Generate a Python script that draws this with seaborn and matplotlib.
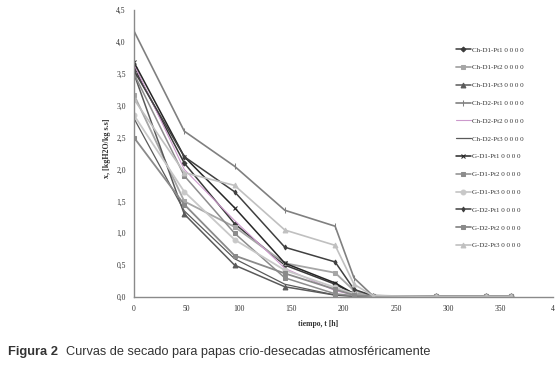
import matplotlib
matplotlib.use("Agg")
import matplotlib.pyplot as plt
import seaborn as sns
import pandas as pd
import numpy as np

# ---- data ----
tiempo = [0, 48, 96, 144, 192, 210, 228, 288, 336, 360]

ch_d1_pt1 = [3.60, 2.10, 1.15, 0.50, 0.20, 0.05, 0.02, 0.01, 0.01, 0.01]
ch_d1_pt2 = [3.17, 1.50, 1.10, 0.53, 0.38, 0.10, 0.02, 0.01, 0.01, 0.01]
ch_d1_pt3 = [3.50, 1.30, 0.50, 0.16, 0.03, 0.01, 0.01, 0.01, 0.01, 0.01]
ch_d2_pt1 = [4.17, 2.60, 2.05, 1.36, 1.11, 0.30, 0.02, 0.01, 0.01, 0.01]
ch_d2_pt2 = [3.65, 2.00, 1.20, 0.45, 0.10, 0.03, 0.02, 0.01, 0.01, 0.01]
ch_d2_pt3 = [2.80, 1.35, 0.60, 0.20, 0.03, 0.02, 0.01, 0.01, 0.01, 0.01]
g_d1_pt1 = [3.68, 2.20, 1.40, 0.53, 0.22, 0.05, 0.02, 0.01, 0.01, 0.01]
g_d1_pt2 = [3.50, 1.90, 1.00, 0.30, 0.05, 0.02, 0.01, 0.01, 0.01, 0.01]
g_d1_pt3 = [2.85, 1.65, 0.90, 0.42, 0.15, 0.05, 0.02, 0.01, 0.01, 0.01]
g_d2_pt1 = [3.55, 2.20, 1.65, 0.78, 0.55, 0.12, 0.02, 0.01, 0.01, 0.01]
g_d2_pt2 = [2.50, 1.45, 0.65, 0.37, 0.12, 0.03, 0.02, 0.01, 0.01, 0.01]
g_d2_pt3 = [3.10, 1.95, 1.75, 1.05, 0.81, 0.20, 0.02, 0.01, 0.01, 0.01]

series_names = ["Ch-D1-Pt1 0 0 0 0", "Ch-D1-Pt2 0 0 0 0", "Ch-D1-Pt3 0 0 0 0",
                "Ch-D2-Pt1 0 0 0 0", "Ch-D2-Pt2 0 0 0 0", "Ch-D2-Pt3 0 0 0 0",
                "G-D1-Pt1 0 0 0 0", "G-D1-Pt2 0 0 0 0", "G-D1-Pt3 0 0 0 0",
                "G-D2-Pt1 0 0 0 0", "G-D2-Pt2 0 0 0 0", "G-D2-Pt3 0 0 0 0"]
series_values = [ch_d1_pt1, ch_d1_pt2, ch_d1_pt3, ch_d2_pt1, ch_d2_pt2, ch_d2_pt3,
                 g_d1_pt1, g_d1_pt2, g_d1_pt3, g_d2_pt1, g_d2_pt2, g_d2_pt3]

x_ticks = [0, 50, 100, 150, 200, 250, 300, 350, 400]
x_tick_labels = ["0", "50", "100", "150", "200", "250", "300", "350", "4"]
y_ticks = [0.0, 0.5, 1.0, 1.5, 2.0, 2.5, 3.0, 3.5, 4.0, 4.5]
y_tick_labels = ["0,0", "0,5", "1,0", "1,5", "2,0", "2,5", "3,0", "3,5", "4,0", "4,5"]

# ---- styles ----
styles = [
    dict(color="#3a3a3a", marker="D", ms=2.5, lw=1.1),
    dict(color="#a6a6a6", marker="s", ms=3.5, lw=1.3),
    dict(color="#5a5a5a", marker="^", ms=3.5, lw=1.1),
    dict(color="#808080", marker="|", ms=4, lw=1.2),
    dict(color="#cc99cc", marker="", ms=0, lw=0.8),
    dict(color="#5a5a5a", marker="", ms=0, lw=0.9),
    dict(color="#262626", marker="x", ms=3, lw=1.1),
    dict(color="#8c8c8c", marker="s", ms=3, lw=1.1),
    dict(color="#c8c8c8", marker="o", ms=3.5, lw=1.3),
    dict(color="#404040", marker="d", ms=2.5, lw=1.1),
    dict(color="#8a8a8a", marker="s", ms=3.5, lw=1.3),
    dict(color="#c0c0c0", marker="^", ms=3.5, lw=1.2),
]

sns.set_theme(style="white")
plt.rcParams["font.family"] = ["Liberation Serif", "DejaVu Serif"]

fig = plt.figure(figsize=(5.55, 3.65), dpi=100)
ax = fig.add_axes([134/555, 1 - 297/365, (553 - 134)/555, (297 - 10)/365])

for name, vals, st in zip(series_names, series_values, styles):
    df = pd.DataFrame({"t": tiempo, "x": vals})
    sns.lineplot(data=df, x="t", y="x", ax=ax, color=st["color"], linewidth=st["lw"],
                 marker=st["marker"] if st["marker"] else None,
                 markersize=st["ms"], markeredgecolor=st["color"],
                 markerfacecolor=st["color"], label=name, sort=False)

ax.set_xlim(0, 400)
ax.set_ylim(0, 4.5)
ax.set_xticks(x_ticks)
ax.set_xticklabels(x_tick_labels, fontsize=5.5, color="#333333")
ax.set_yticks(y_ticks)
ax.set_yticklabels(y_tick_labels, fontsize=5.5, color="#333333")
ax.tick_params(axis="both", length=0, pad=6)
for s in ["top", "right"]:
    ax.spines[s].set_visible(False)
for s in ["left", "bottom"]:
    ax.spines[s].set_color("#8a8a8a")
    ax.spines[s].set_linewidth(1.0)
ax.set_xlabel("")
ax.set_ylabel("x, [kgH2O/kg s.s]", fontsize=5.8, fontweight="bold", color="#333333")
ax.yaxis.set_label_coords(-0.055, 0.52)

fig.text(318/555, 1 - 324/365, "tiempo, t [h]", fontsize=5.5, fontweight="bold",
         color="#333333", ha="center", va="center")

leg = ax.legend(loc="upper left", bbox_to_anchor=(453/555, 1 - 44/365),
                bbox_transform=fig.transFigure, frameon=False, fontsize=5,
                handlelength=2.2, handletextpad=0.1, labelspacing=1.72,
                borderaxespad=0)
for txt in leg.get_texts():
    txt.set_color("#333333")

fig.text(8/555, 1 - 352/365, "Figura 2", fontsize=9.3, fontweight="bold",
         family=["Liberation Sans", "DejaVu Sans"], color="#333333", va="center")
fig.text(66/555, 1 - 352/365, "Curvas de secado para papas crio-desecadas atmosféricamente",
         fontsize=9.2, family=["Liberation Sans", "DejaVu Sans"], color="#333333", va="center")

fig.savefig("out.png", dpi=100)
